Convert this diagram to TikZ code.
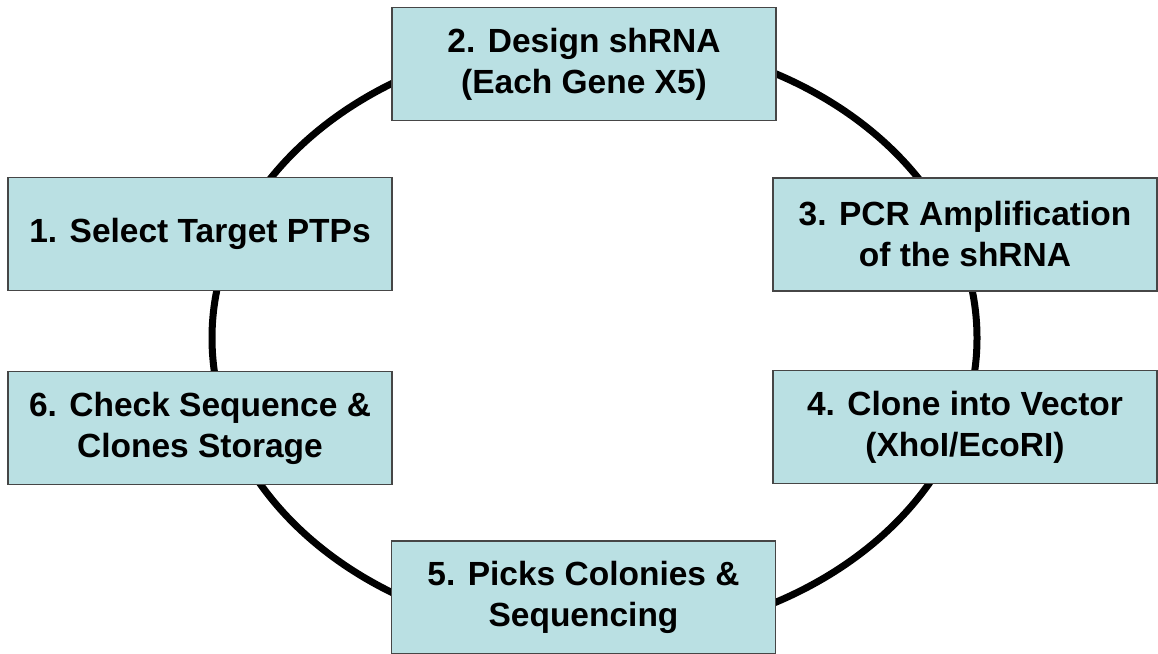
\documentclass[tikz,border=0pt]{standalone}
\usepackage{fontspec}
\setmainfont{Liberation Sans}
\definecolor{boxfill}{RGB}{186,224,227}
\definecolor{boxline}{RGB}{70,70,70}
\begin{document}
\begin{tikzpicture}[x=1pt,y=-1pt,
  stepbox/.style={draw=boxline, line width=1.3pt, fill=boxfill, minimum width=384pt, minimum height=113pt, inner sep=0pt, align=center, font=\fontsize{33.5}{41}\selectfont\bfseries},
  loop/.style={line width=7pt, black}]
\useasboundingbox (0,0) rectangle (1158,653);
\coordinate (c) at (594.5,338);
\draw[loop] (c) ellipse [x radius=382.5pt, y radius=300pt];
\node[stepbox] (s2) at (584,64) {2. Design shRNA\\(Each Gene X5)};
\node[stepbox] (s1) at (200,234) {1. Select Target PTPs};
\node[stepbox] (s3) at (965,234.5) {3. PCR Amplification\\of the shRNA};
\node[stepbox] (s4) at (965,427) {4. Clone into Vector\\(XhoI/EcoRI)};
\node[stepbox] (s6) at (200,428) {6. Check Sequence \&\\Clones Storage};
\node[stepbox] (s5) at (583.5,597.5) {5. Picks Colonies \&\\Sequencing};
\end{tikzpicture}
\end{document}
